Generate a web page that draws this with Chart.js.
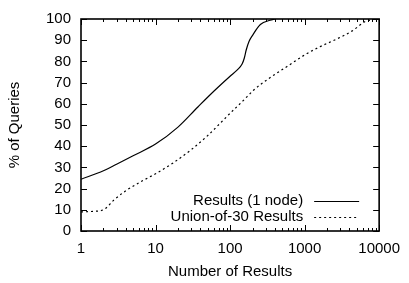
<!DOCTYPE html>
<html>
<head>
<meta charset="utf-8">
<script src="https://cdn.jsdelivr.net/npm/chart.js@4.4.1/dist/chart.umd.min.js"></script>
<style>
  html, body { margin: 0; padding: 0; background: #fff; }
  canvas { display: block; }
</style>
</head>
<body>
<canvas id="chart" width="409" height="283"></canvas>
<script>
// values
const oneNodeX = [1, 2, 3, 5, 10, 20, 37, 60, 100, 125, 145, 155, 165, 180, 200, 255, 345, 400];
const oneNodeY = [24.4, 28.4, 31.5, 35.5, 41, 49, 58.5, 65.8, 73, 76, 78.8, 81.5, 85.5, 89.5, 92.3, 97.4, 99.4, 100];

const unionX = [1, 1.5, 2, 2.8, 4, 6.3, 10, 17, 30, 50, 100, 150, 208, 346, 575, 1000, 1580, 2600, 4350, 6500, 8900];
const unionY = [9, 9.3, 10, 14.8, 19, 23.2, 27, 32, 38.3, 45, 55.5, 61.5, 66.5, 72.4, 77.5, 83, 86.8, 90.3, 94.4, 98.8, 100];

const seriesNames = ["Results (1 node)", "Union-of-30 Results"];
const xTickValues = [1, 10, 100, 1000, 10000];
const yTickValues = [0, 10, 20, 30, 40, 50, 60, 70, 80, 90, 100];

const FONT = "Liberation Sans, Arial, Helvetica, sans-serif";
const FONT_SIZE = 15;
const DOTS = [2, 3];

function toPoints(xs, ys) {
    return xs.map((x, i) => ({ x: x, y: ys[i] }));
}

// gnuplot-style frame with inward ticks + legend inside bottom right
const framePlugin = {
    id: "frame",
    afterDatasetsDraw(chart) {
        const { ctx, chartArea: a, scales } = chart;
        const xs = scales.x;
        const ys = scales.y;
        ctx.save();
        ctx.strokeStyle = "#000";
        ctx.lineWidth = 1;
        ctx.beginPath();
        xTickValues.forEach((dec, i) => {
            const px = Math.round(xs.getPixelForValue(dec)) + 0.5;
            ctx.moveTo(px, a.bottom); ctx.lineTo(px, a.bottom - 6);
            ctx.moveTo(px, a.top); ctx.lineTo(px, a.top + 6);
            if (i < xTickValues.length - 1) {
                for (let m = 2; m < 10; m++) {
                    const mx = Math.round(xs.getPixelForValue(dec * m)) + 0.5;
                    ctx.moveTo(mx, a.bottom); ctx.lineTo(mx, a.bottom - 3);
                    ctx.moveTo(mx, a.top); ctx.lineTo(mx, a.top + 3);
                }
            }
        });
        yTickValues.forEach((v) => {
            const py = Math.round(ys.getPixelForValue(v)) + 0.5;
            ctx.moveTo(a.left, py); ctx.lineTo(a.left + 6, py);
            ctx.moveTo(a.right, py); ctx.lineTo(a.right - 6, py);
        });
        ctx.stroke();

        ctx.lineWidth = 1.6;
        ctx.strokeRect(a.left, a.top, a.right - a.left, a.bottom - a.top);

        // legend
        ctx.font = FONT_SIZE + "px " + FONT;
        ctx.fillStyle = "#000";
        ctx.textAlign = "right";
        ctx.textBaseline = "middle";
        const textRight = a.right - 76;
        const sampleL = a.right - 65;
        const sampleR = a.right - 20;
        seriesNames.forEach((name, i) => {
            const y = a.bottom - 30 + i * 15.7;
            ctx.fillText(name, textRight, y);
            ctx.lineWidth = 1.2;
            ctx.setLineDash(i === 0 ? [] : DOTS);
            ctx.beginPath();
            ctx.moveTo(sampleL, Math.round(y) + 0.5);
            ctx.lineTo(sampleR, Math.round(y) + 0.5);
            ctx.stroke();
        });
        ctx.restore();
    },
};

new Chart(document.getElementById("chart"), {
    type: "line",
    data: {
        datasets: [
            {
                label: seriesNames[0],
                data: toPoints(oneNodeX, oneNodeY),
                borderColor: "#000",
                borderWidth: 1.2,
                pointRadius: 0,
                cubicInterpolationMode: "monotone",
                fill: false,
            },
            {
                label: seriesNames[1],
                data: toPoints(unionX, unionY),
                borderColor: "#000",
                borderWidth: 1.2,
                borderDash: DOTS,
                pointRadius: 0,
                cubicInterpolationMode: "monotone",
                fill: false,
            },
        ],
    },
    options: {
        responsive: false,
        animation: false,
        devicePixelRatio: 1,
        layout: { padding: { left: 0, right: 25, top: 11, bottom: 0 } },
        plugins: {
            legend: { display: false },
            tooltip: { enabled: false },
        },
        scales: {
            x: {
                type: "logarithmic",
                min: 1,
                max: 10000,
                afterBuildTicks: (scale) => {
                    scale.ticks = xTickValues.map((v) => ({ value: v }));
                },
                afterFit: (scale) => { scale.height = 52; },
                grid: { display: false, drawTicks: false },
                border: { display: false },
                ticks: {
                    color: "#000",
                    font: { family: FONT, size: FONT_SIZE },
                    padding: 9,
                    maxRotation: 0,
                    autoSkip: false,
                    callback: (v) => String(v),
                },
                title: {
                    display: true,
                    text: "Number of Results",
                    color: "#000",
                    font: { family: FONT, size: FONT_SIZE },
                    padding: { top: 0, bottom: 2 },
                },
            },
            y: {
                min: 0,
                max: 100,
                afterBuildTicks: (scale) => {
                    scale.ticks = yTickValues.map((v) => ({ value: v }));
                },
                afterFit: (scale) => { scale.width = 81; },
                grid: { display: false, drawTicks: false },
                border: { display: false },
                ticks: {
                    color: "#000",
                    font: { family: FONT, size: FONT_SIZE },
                    padding: 10,
                },
                title: {
                    display: true,
                    text: "% of Queries",
                    color: "#000",
                    font: { family: FONT, size: FONT_SIZE },
                    padding: { top: 6, bottom: 0 },
                },
            },
        },
    },
    plugins: [framePlugin],
});
</script>
</body>
</html>
